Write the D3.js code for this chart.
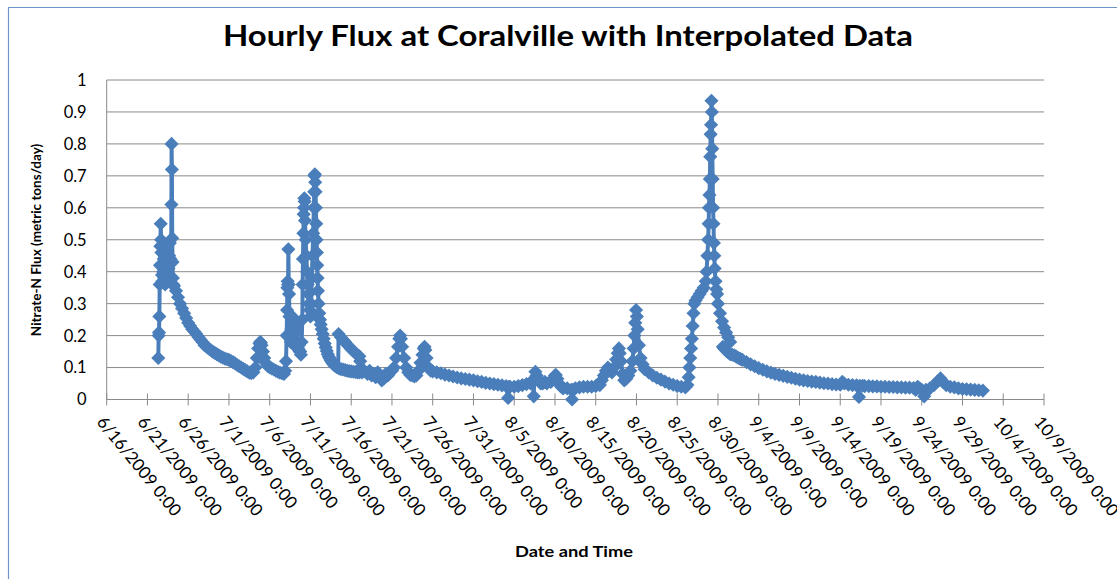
<!DOCTYPE html>
<html>
<head>
<meta charset="utf-8">
<script src="https://cdn.jsdelivr.net/npm/d3@7"></script>
<style>
  body { margin: 0; background: #fff; }
  text { font-family: Lato, 'Open Sans', sans-serif; fill: #000; }
</style>
</head>
<body>
<script>
// hourly flux readings, [day of month (with fraction of day), metric tons/day]
var june = [
  [22.33, 0.13], [22.375, 0.2], [22.42, 0.21], [22.46, 0.26], [22.5, 0.36], [22.54, 0.42], [22.58, 0.48], [22.63, 0.55],
  [22.67, 0.5], [22.71, 0.46], [22.75, 0.42], [22.79, 0.39], [22.83, 0.37], [22.92, 0.4], [23.0, 0.44], [23.08, 0.38],
  [23.17, 0.36], [23.25, 0.4], [23.33, 0.47], [23.42, 0.43], [23.5, 0.38], [23.58, 0.41], [23.67, 0.45], [23.75, 0.49],
  [23.83, 0.44], [23.9, 0.43], [23.94, 0.61], [23.96, 0.8], [24.0, 0.72], [24.04, 0.505], [24.08, 0.43], [24.12, 0.38],
  [24.17, 0.36], [24.25, 0.355], [24.5, 0.34], [24.75, 0.32], [25.0, 0.3], [25.25, 0.285], [25.5, 0.27], [25.75, 0.255],
  [26.0, 0.24], [26.25, 0.23], [26.5, 0.22], [26.75, 0.213], [27.0, 0.205], [27.25, 0.196], [27.5, 0.188], [27.75, 0.18],
  [28.0, 0.17], [28.25, 0.165], [28.5, 0.16], [28.75, 0.155], [29.0, 0.15], [29.25, 0.146], [29.5, 0.142], [29.75, 0.138],
  [30.0, 0.134], [30.25, 0.131], [30.5, 0.128], [30.75, 0.126]
]
var july = [
  [1.0, 0.124], [1.25, 0.12], [1.5, 0.117], [1.75, 0.113], [2.0, 0.108], [2.25, 0.104], [2.5, 0.1], [2.75, 0.096],
  [3.0, 0.092], [3.25, 0.088], [3.5, 0.084], [3.75, 0.082], [4.0, 0.085], [4.25, 0.1], [4.42, 0.13], [4.58, 0.16],
  [4.75, 0.175], [4.83, 0.18], [4.92, 0.178], [5.0, 0.17], [5.17, 0.15], [5.33, 0.13], [5.5, 0.115], [5.75, 0.105],
  [6.0, 0.1], [6.25, 0.097], [6.5, 0.094], [6.75, 0.09], [7.0, 0.087], [7.25, 0.084], [7.5, 0.082], [7.75, 0.08],
  [7.9, 0.09], [8.0, 0.12], [8.08, 0.2], [8.13, 0.28], [8.17, 0.35], [8.21, 0.37], [8.25, 0.36], [8.29, 0.47],
  [8.33, 0.36], [8.375, 0.33], [8.42, 0.26], [8.5, 0.2], [8.58, 0.18], [8.67, 0.22], [8.75, 0.26], [8.83, 0.23],
  [8.92, 0.19], [9.0, 0.17], [9.08, 0.19], [9.17, 0.21], [9.25, 0.24], [9.33, 0.22], [9.42, 0.18], [9.5, 0.16],
  [9.58, 0.17], [9.67, 0.15], [9.75, 0.15], [9.83, 0.14], [9.92, 0.18], [10.0, 0.25], [10.04, 0.36], [10.08, 0.44],
  [10.13, 0.52], [10.17, 0.58], [10.21, 0.6], [10.25, 0.63], [10.29, 0.62], [10.33, 0.56], [10.42, 0.5], [10.5, 0.45],
  [10.58, 0.4], [10.67, 0.36], [10.75, 0.33], [10.83, 0.3], [10.92, 0.28], [11.0, 0.26], [11.08, 0.3], [11.17, 0.38],
  [11.25, 0.45], [11.33, 0.52], [11.42, 0.6], [11.46, 0.65], [11.5, 0.7], [11.54, 0.705], [11.58, 0.68], [11.63, 0.65],
  [11.67, 0.6], [11.71, 0.55], [11.75, 0.5], [11.79, 0.46], [11.83, 0.42], [11.875, 0.38], [11.92, 0.34], [12.0, 0.3],
  [12.08, 0.27], [12.17, 0.25], [12.25, 0.235], [12.375, 0.22], [12.5, 0.205], [12.625, 0.19], [12.75, 0.175], [12.875, 0.163],
  [13.0, 0.152], [13.125, 0.142], [13.25, 0.134], [13.375, 0.128], [13.5, 0.122], [13.625, 0.117], [13.75, 0.113], [13.875, 0.109],
  [14.0, 0.106], [14.2, 0.102], [14.4, 0.1],
  // interpolated stretch, then the measured values again
  [14.45, 0.205], [14.75, 0.195], [15.0, 0.187], [15.25, 0.18], [15.5, 0.172], [15.75, 0.165], [16.0, 0.158], [16.25, 0.152],
  [16.5, 0.146], [16.75, 0.14], [17.0, 0.135], [17.1, 0.12], [17.2, 0.1], [17.3, 0.085],
  [14.5, 0.097], [14.75, 0.095], [15.0, 0.094], [15.25, 0.092], [15.5, 0.09], [15.75, 0.089], [16.0, 0.088], [16.25, 0.087],
  [16.5, 0.086], [16.75, 0.085], [17.0, 0.085], [17.5, 0.088], [18.0, 0.08], [18.25, 0.09], [18.5, 0.075], [18.75, 0.08],
  [19.0, 0.07], [19.25, 0.085], [19.5, 0.075], [19.75, 0.06], [20.0, 0.065], [20.25, 0.08], [20.5, 0.075], [20.75, 0.085],
  [21.0, 0.09], [21.25, 0.1], [21.5, 0.13], [21.75, 0.165], [21.9, 0.19], [22.0, 0.2], [22.1, 0.19], [22.25, 0.165],
  [22.5, 0.13], [22.75, 0.1], [23.0, 0.085], [23.25, 0.077], [23.5, 0.075], [23.75, 0.072], [24.0, 0.075], [24.25, 0.09],
  [24.5, 0.115], [24.75, 0.14], [24.9, 0.16], [25.0, 0.165], [25.1, 0.155], [25.25, 0.13], [25.5, 0.1], [25.75, 0.09],
  [26.0, 0.088], [26.5, 0.085], [27.0, 0.082], [27.5, 0.078], [28.0, 0.075], [28.5, 0.072], [29.0, 0.069], [29.5, 0.066],
  [30.0, 0.064], [30.5, 0.062], [31.0, 0.06], [31.5, 0.057]
]
var august = [
  [1.0, 0.055], [1.5, 0.052], [2.0, 0.05], [2.5, 0.048], [3.0, 0.046], [3.5, 0.044], [4.0, 0.042], [4.25, 0.005],
  [4.35, 0.04], [4.5, 0.04], [5.0, 0.04], [5.5, 0.042], [6.0, 0.045], [6.5, 0.048], [7.0, 0.05], [7.25, 0.06],
  [7.4, 0.01], [7.45, 0.06], [7.6, 0.087], [7.75, 0.075], [8.0, 0.06], [8.25, 0.05], [8.5, 0.05], [8.75, 0.055],
  [9.0, 0.05], [9.5, 0.055], [9.75, 0.065], [10.0, 0.075], [10.1, 0.077], [10.3, 0.065], [10.5, 0.05], [10.75, 0.04],
  [11.0, 0.035], [11.5, 0.035], [12.0, 0.03], [12.1, 0.0], [12.2, 0.03], [12.5, 0.035], [13.0, 0.038], [13.5, 0.04],
  [14.0, 0.04], [14.5, 0.04], [15.0, 0.042], [15.5, 0.045], [15.75, 0.06], [16.0, 0.075], [16.25, 0.09], [16.5, 0.1],
  [16.75, 0.09], [17.0, 0.085], [17.25, 0.1], [17.5, 0.125], [17.7, 0.145], [17.85, 0.16], [17.95, 0.145], [18.1, 0.12],
  [18.3, 0.08], [18.5, 0.06], [18.75, 0.065], [19.0, 0.075], [19.25, 0.09], [19.5, 0.12], [19.65, 0.16], [19.75, 0.2],
  [19.85, 0.24], [19.95, 0.28], [20.05, 0.26], [20.15, 0.22], [20.3, 0.17], [20.5, 0.13], [20.75, 0.11], [21.0, 0.095],
  [21.5, 0.085], [22.0, 0.075], [22.5, 0.068], [23.0, 0.062], [23.5, 0.056], [24.0, 0.05], [24.5, 0.046], [25.0, 0.042],
  [25.5, 0.04], [26.0, 0.038], [26.25, 0.045], [26.4, 0.07], [26.5, 0.1], [26.6, 0.13], [26.7, 0.16], [26.8, 0.19],
  [26.9, 0.23], [27.0, 0.27], [27.1, 0.3], [27.25, 0.31], [27.5, 0.32], [27.75, 0.33], [28.0, 0.34], [28.25, 0.35],
  [28.5, 0.37], [28.6, 0.4], [28.7, 0.45], [28.8, 0.5], [28.85, 0.55], [28.9, 0.6], [28.95, 0.64], [29.0, 0.69],
  [29.05, 0.76], [29.1, 0.83], [29.15, 0.86], [29.2, 0.935], [29.25, 0.9], [29.3, 0.785], [29.35, 0.69], [29.4, 0.6],
  [29.45, 0.55], [29.5, 0.49], [29.55, 0.45], [29.6, 0.41], [29.7, 0.37], [29.8, 0.345], [29.9, 0.33], [30.0, 0.3],
  [30.25, 0.27], [30.5, 0.245], [30.75, 0.225], [31.0, 0.21], [31.25, 0.195], [31.5, 0.18],
  [30.6, 0.165], [30.75, 0.16], [31.0, 0.153], [31.25, 0.147], [31.5, 0.142], [31.75, 0.14]
]
var september = [
  [1.0, 0.138], [1.25, 0.134], [1.5, 0.13], [1.75, 0.127], [2.0, 0.124], [2.5, 0.117], [3.0, 0.11], [3.5, 0.104],
  [4.0, 0.098], [4.5, 0.093], [5.0, 0.088], [5.5, 0.084], [6.0, 0.08], [6.5, 0.077], [7.0, 0.074], [7.5, 0.071],
  [8.0, 0.068], [8.5, 0.065], [9.0, 0.062], [9.5, 0.06], [10.0, 0.058], [10.5, 0.056], [11.0, 0.055], [11.5, 0.053],
  [12.0, 0.051], [12.5, 0.05], [13.0, 0.048], [13.5, 0.047], [14.0, 0.046], [14.25, 0.055], [14.5, 0.05], [15.0, 0.046],
  [15.5, 0.045], [16.0, 0.044], [16.3, 0.008], [16.4, 0.043], [16.75, 0.043], [17.0, 0.042], [17.5, 0.042], [18.0, 0.041],
  [18.5, 0.041], [19.0, 0.04], [19.5, 0.04], [20.0, 0.039], [20.5, 0.039], [21.0, 0.038], [21.5, 0.038], [22.0, 0.037],
  [22.5, 0.037], [23.0, 0.036], [23.25, 0.03], [23.5, 0.04], [23.75, 0.035], [24.0, 0.03], [24.3, 0.01], [24.5, 0.03],
  [25.0, 0.035], [25.5, 0.045], [26.0, 0.058], [26.3, 0.066], [26.6, 0.055], [27.0, 0.045], [27.5, 0.04], [28.0, 0.038],
  [28.5, 0.035], [29.0, 0.033], [29.5, 0.032], [30.0, 0.031], [30.5, 0.03]
]
var october = [[1.0, 0.029], [1.5, 0.028]]

var yTicks = [0, 0.1, 0.2, 0.3, 0.4, 0.5, 0.6, 0.7, 0.8, 0.9, 1]
var axisStart = '2009-06-16'
var axisEnd = '2009-10-09'

var fullWidth = 1117
var fullHeight = 579
var margin = { top: 80, right: 73, bottom: 179.5, left: 106.7 }
var innerWidth = fullWidth - margin.left - margin.right
var innerHeight = fullHeight - margin.top - margin.bottom

function toPoints(month, rows) {
  return rows.map((r) => {
    var t = Date.UTC(2009, month, 1) + (r[0] - 1) * 864e5
    return { date: new Date(t), flux: r[1] }
  })
}
var points = [].concat(
  toPoints(5, june), toPoints(6, july), toPoints(7, august),
  toPoints(8, september), toPoints(9, october))

var svg = d3
  .select('body')
  .append('svg')
  .attr('width', fullWidth)
  .attr('height', fullHeight)

// chart area border (only top and left edges fall inside the picture)
svg.append('path')
  .attr('d', 'M8.5,' + fullHeight + 'V7.5H' + fullWidth)
  .style('fill', 'none')
  .style('stroke', '#6f95c8')
  .style('stroke-width', 1.2)

var x = d3.scaleUtc()
  .domain([new Date(axisStart), new Date(axisEnd)])
  .range([margin.left, margin.left + innerWidth])
var y = d3.scaleLinear()
  .domain([0, 1])
  .range([margin.top + innerHeight, margin.top])

var xTicks = d3.utcDay.range(new Date(axisStart), d3.utcDay.offset(new Date(axisEnd), 1), 5)
var fmt = d3.utcFormat('%-m/%-d/%Y %-H:%M')

// gridlines
svg.append('g')
  .selectAll('line')
  .data(yTicks.slice(1))
  .join('line')
  .attr('x1', margin.left).attr('x2', margin.left + innerWidth)
  .attr('y1', (d) => y(d)).attr('y2', (d) => y(d))
  .style('stroke', '#8a8a8a')
  .style('stroke-width', 1)

// y axis
svg.append('line')
  .attr('x1', margin.left).attr('x2', margin.left)
  .attr('y1', y(0)).attr('y2', y(1))
  .style('stroke', '#8a8a8a')
svg.append('g')
  .selectAll('text')
  .data(yTicks)
  .join('text')
  .attr('x', margin.left - 20)
  .attr('y', (d) => y(d))
  .attr('dy', '0.36em')
  .attr('text-anchor', 'end')
  .style('font-size', '16.5px')
  .text((d) => String(d))

// x axis
var xAxisG = svg.append('g')
xAxisG.append('line')
  .attr('x1', margin.left).attr('x2', margin.left + innerWidth)
  .attr('y1', y(0)).attr('y2', y(0))
  .style('stroke', '#8a8a8a')
xAxisG.selectAll('.tick')
  .data(xTicks)
  .join('line')
  .attr('class', 'tick')
  .attr('x1', (d) => x(d)).attr('x2', (d) => x(d))
  .attr('y1', y(0) - 6).attr('y2', y(0) + 6)
  .style('stroke', '#8a8a8a')
xAxisG.selectAll('.lbl')
  .data(xTicks)
  .join('text')
  .attr('class', 'lbl')
  .attr('transform', (d) => 'translate(' + (x(d) - 6) + ',' + (y(0) + 19) + ') rotate(51)')
  .attr('dy', '0.35em')
  .style('font-size', '17px')
  .text((d) => fmt(d))

// series
var line = d3.line()
  .x((d) => x(d.date))
  .y((d) => y(d.flux))
svg.append('path')
  .datum(points)
  .attr('d', line)
  .style('fill', 'none')
  .style('stroke', '#4a7ebb')
  .style('stroke-width', 4)
  .style('stroke-linejoin', 'round')

var diamond = d3.symbol().type(d3.symbolSquare).size(100)
svg.append('g')
  .selectAll('path')
  .data(points)
  .join('path')
  .attr('d', diamond)
  .attr('transform', (d) => 'translate(' + x(d.date) + ',' + y(d.flux) + ') rotate(45)')
  .style('fill', '#4a7ebb')

// titles
svg.append('text')
  .attr('x', 223).attr('y', 46)
  .attr('textLength', 690)
  .attr('lengthAdjust', 'spacingAndGlyphs')
  .style('font-size', '29px')
  .style('font-weight', 'bold')
  .text('Hourly Flux at Coralville with Interpolated Data')
svg.append('text')
  .attr('transform', 'translate(41,240) rotate(-90)')
  .attr('text-anchor', 'middle')
  .style('font-size', '13.5px')
  .style('font-weight', 'bold')
  .text('Nitrate-N Flux (metric tons/day)')
svg.append('text')
  .attr('x', 515).attr('y', 557)
  .attr('textLength', 118)
  .attr('lengthAdjust', 'spacingAndGlyphs')
  .style('font-size', '15px')
  .style('font-weight', 'bold')
  .text('Date and Time')
</script>
</body>
</html>
